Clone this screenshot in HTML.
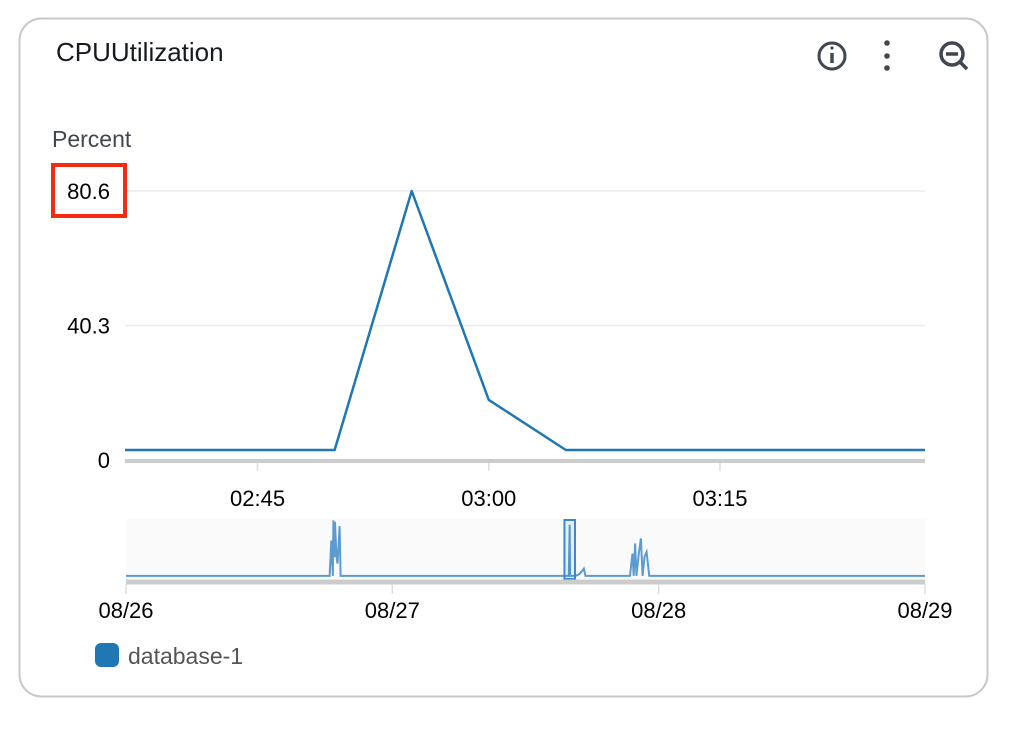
<!DOCTYPE html>
<html><head><meta charset="utf-8"><style>
body{margin:0;background:#fff;width:1012px;height:724px;overflow:hidden;font-family:"Liberation Sans",Arial,sans-serif}
</style></head><body>
<svg width="1012" height="724" xmlns="http://www.w3.org/2000/svg" font-family="Liberation Sans, Arial, sans-serif">
<rect x="19.5" y="18.5" width="968" height="678" rx="22" fill="#fff" stroke="#c8c8c8" stroke-width="2"/>
<text x="56" y="61" font-size="26" fill="#16191f">CPUUtilization</text>
<g fill="none" stroke="#414750" stroke-width="3">
<circle cx="832" cy="56" r="13"/><line x1="832" y1="53" x2="832" y2="63" stroke-width="3.5"/><circle cx="832" cy="48" r="1.6" fill="#414750" stroke="none"/></g>
<g fill="#414750"><circle cx="887" cy="43" r="2.8"/><circle cx="887" cy="56" r="2.8"/><circle cx="887" cy="68" r="2.8"/></g>
<g fill="none" stroke="#414750" stroke-width="3.5"><circle cx="952" cy="54" r="11"/><line x1="946" y1="54" x2="958" y2="54"/><line x1="960" y1="62" x2="967" y2="69"/></g>
<text x="52" y="147" font-size="23" fill="#414750">Percent</text>
<g id="main"></g>
<rect x="53" y="165" width="72" height="51" fill="none" stroke="#f52a0f" stroke-width="4"/>
<g id="mini"></g>
<rect x="95" y="643" width="24" height="24" rx="6" fill="#1f77b4"/>
<text x="128" y="664" font-size="23" fill="#555">database-1</text>
</svg>
<script>
const NS="http://www.w3.org/2000/svg";
// main chart data (minutes after 02:00)
const mainTimes=[36.4,50,55,60,65,88.3];
const mainValues=[3,3,80.6,18,3,3];
const yTicks=[0,40.3,80.6];
const yTickLabels=["0","40.3","80.6"];
const xTicks=[45,60,75];
const xTickLabels=["02:45","03:00","03:15"];
// overview data (hours after 08/26 00:00)
const miniTimes=[0,18.35,18.5,18.64,18.69,18.78,18.83,18.97,19.06,19.25,19.34,39.9,39.98,40.02,40.5,40.69,40.9,41.26,41.4,45.41,45.64,45.75,45.88,46.0,46.21,46.4,46.55,46.72,46.91,47.15,72];
const miniValues=[3,3,52,3,80,29,78,29,20,72,3,3,74,3,3,4,6,13,3,3,34,3,48,3,34,55,3,29,36,3,3];
const miniTicks=[0,24,48,72];
const miniTickLabels=["08/26","08/27","08/28","08/29"];
const windowRange=[39.51,40.46];

function el(t,a,p){const e=document.createElementNS(NS,t);for(const k in a)e.setAttribute(k,a[k]);p.appendChild(e);return e;}
const main=document.getElementById('main'),mini=document.getElementById('mini');
const x0=125,x1=925,t0=36.4,t1=88.3;
const X=t=>x0+(t-t0)/(t1-t0)*(x1-x0);
const Y=v=>460-v/80.6*269;
yTicks.forEach((v,i)=>{
 if(v>0){const g=el('line',{x1:x0,x2:x1,y1:Y(v),y2:Y(v),stroke:'#e9ebed','stroke-width':1.5},main);
 
 }
 const t=el('text',{x:110,y:Y(v)+8,'font-size':22,fill:'#000','text-anchor':'end'},main);
 
 
 t.textContent=yTickLabels[i];
});
const ax=el('line',{x1:x0,x2:x1,y1:461,y2:461,stroke:'#cccccc','stroke-width':4},main);


xTicks.forEach((t,i)=>{
 const l=el('line',{x1:X(t),x2:X(t),y1:463,y2:471,stroke:'#ddd','stroke-width':1.5},main);
 
 
 const tx=el('text',{x:X(t),y:506,'font-size':22,fill:'#000','text-anchor':'middle'},main);
 
 
 tx.textContent=xTickLabels[i];
});
const pl=el('polyline',{points:mainTimes.map((t,i)=>X(t)+','+Y(mainValues[i])).join(' '),fill:'none',stroke:'#1f77b4','stroke-width':2.5,'stroke-linejoin':'round'},main);



const mx0=126,mx1=925,MX=h=>mx0+h/72*(mx1-mx0),MY=v=>578-v/80.6*58;
const bg=el('rect',{x:mx0,y:519,width:mx1-mx0,height:60,fill:'#fafafa'},mini);


const mp=el('polyline',{points:miniTimes.map((t,i)=>MX(t)+','+MY(miniValues[i])).join(' '),fill:'none',stroke:'#5b9bd0','stroke-width':2},mini);


const wb=el('rect',{x:MX(windowRange[0]),y:520,width:MX(windowRange[1])-MX(windowRange[0]),height:59,fill:'rgba(31,119,180,0.08)',stroke:'#3a87d8','stroke-width':2},mini);


const ma=el('line',{x1:mx0,x2:mx1,y1:582,y2:582,stroke:'#cccccc','stroke-width':5},mini);


miniTicks.forEach((h,i)=>{
 const l=el('line',{x1:MX(h),x2:MX(h),y1:584,y2:594,stroke:'#ddd','stroke-width':1.5},mini);
 
 
 const tx=el('text',{x:MX(h),y:618,'font-size':22,fill:'#000','text-anchor':'middle'},mini);
 
 
 tx.textContent=miniTickLabels[i];
});
</script>
</body></html>
